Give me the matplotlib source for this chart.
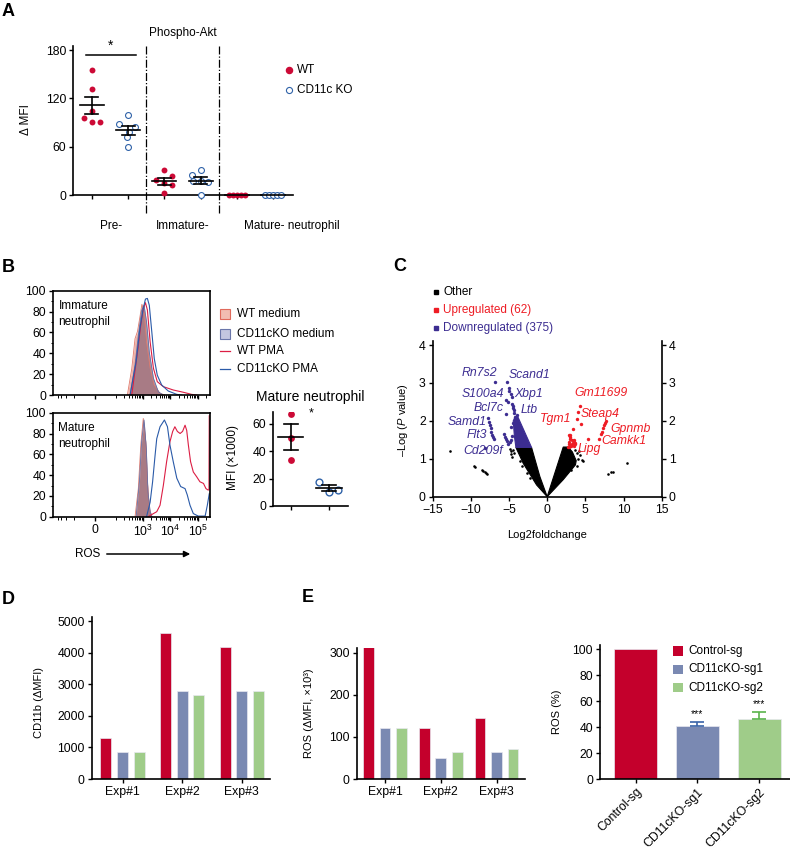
import numpy as np
import matplotlib
matplotlib.use('Agg')
import matplotlib.pyplot as plt
from matplotlib.patches import Rectangle, Polygon
from matplotlib.lines import Line2D

plt.rcParams['font.family'] = ['Liberation Sans', 'DejaVu Sans']
plt.rcParams['mathtext.fontset'] = 'custom'
plt.rcParams['mathtext.rm'] = 'Liberation Sans'
plt.rcParams['mathtext.it'] = 'Liberation Sans:italic'
plt.rcParams['axes.linewidth'] = 1.2
plt.rcParams['xtick.major.width'] = 1.0
plt.rcParams['ytick.major.width'] = 1.0
plt.rcParams['xtick.major.size'] = 3
plt.rcParams['ytick.major.size'] = 3
plt.rcParams['xtick.labelsize'] = 8.8
plt.rcParams['ytick.labelsize'] = 8.8
plt.rcParams['xtick.major.pad'] = 2
plt.rcParams['ytick.major.pad'] = 2
NARROW = ['Liberation Sans Narrow', 'Liberation Sans', 'DejaVu Sans']
FS = 8.5

# ---------------- data ----------------
# Panel A (Phospho-Akt, delta MFI)
a_categories = ['Pre-', 'Immature-', 'Mature- neutrophil']
a_pre_wt = [155, 131, 104, 96, 91, 91]
a_pre_ko = [99, 88, 84, 78, 72, 60]
a_imm_wt = [31, 23, 19, 15, 12, 2]
a_imm_ko = [31, 25, 18, 17, 16, 0]
a_mat_wt = [0, 0, 0, 0, 0]
a_mat_ko = [0, 0, 0, 0, 0]

# Panel B histograms: log10(ROS) positions and % of max
imm_wt_med_L = [2.43, 2.59, 2.71, 2.80, 2.89, 2.96, 3.04, 3.13, 3.26, 3.40, 3.62, 3.80]
imm_wt_med_c = [0, 25, 54, 61, 75, 87, 80, 51, 26, 10, 1.6, 0]
imm_ko_med_L = [2.53, 2.71, 2.83, 2.95, 3.04, 3.13, 3.23, 3.38, 3.56, 3.74]
imm_ko_med_c = [0, 29, 57, 81, 86, 70, 41, 16, 3, 0]
imm_wt_pma_L = [2.59, 2.80, 2.92, 3.01, 3.09, 3.16, 3.26, 3.38, 3.52, 3.74, 4.10, 4.47, 4.77, 4.95]
imm_wt_pma_c = [0, 41, 67, 83, 88.5, 81.5, 51, 25.6, 12.8, 8, 4.8, 2.6, 0.6, 0]
imm_ko_pma_L = [2.53, 2.75, 2.89, 3.01, 3.09, 3.16, 3.23, 3.32, 3.41, 3.52, 3.68, 3.92, 4.23, 4.41]
imm_ko_pma_c = [0, 32, 64, 83, 92, 92.6, 86, 60.7, 35, 19, 9.6, 3.8, 0.6, 0]

mat_wt_med_L = [2.71, 2.83, 2.92, 3.01, 3.10, 3.16, 3.23, 3.32]
mat_wt_med_c = [0, 27, 69, 94.5, 72, 33.6, 8, 0]
mat_ko_med_L = [2.75, 2.87, 2.95, 3.04, 3.12, 3.18, 3.26, 3.33]
mat_ko_med_c = [0, 33.6, 72, 93, 65.7, 24, 4.8, 0]
mat_ko_pma_L = [3.13, 3.26, 3.35, 3.44, 3.50, 3.62, 3.78, 3.89, 3.98, 4.10, 4.23, 4.37,
                4.53, 4.61, 4.71, 4.83, 5.01, 5.26, 5.34, 5.41]
mat_ko_pma_c = [0, 14, 33.6, 59, 75, 86.5, 93, 86.5, 69, 53, 37, 29, 27, 21, 11, 3, 0.6, 0.6, 11, 22]
mat_wt_pma_L = [3.19, 3.38, 3.50, 3.62, 3.74, 3.86, 3.98, 4.08, 4.16, 4.25, 4.35, 4.44,
                4.53, 4.59, 4.65, 4.73, 4.83, 4.95, 5.07, 5.20, 5.29, 5.37, 5.40, 5.41]
mat_wt_pma_c = [0, 3, 4.8, 11, 30, 53, 72, 82, 86.5, 82, 80, 82, 88, 83, 69, 53, 43, 38.5,
                33.6, 32, 27, 25.6, 26, 97]

# Panel B mature neutrophil MFI (x1000)
b_wt = [67, 50, 34]
b_ko = [17.5, 10, 12]

# Panel C volcano
c_other_left_x = [0, -1.39, -3.14, -4.1, -2.05, -0.96, 0]
c_other_left_y = [0, 0.31, 0.88, 1.30, 1.30, 0.53, 0]
c_other_right_x = [0, 2.1, 2.75, 3.3, 3.8, 3.7, 2.1, 0]
c_other_right_y = [0, 1.31, 1.31, 1.18, 0.95, 0.84, 0.45, 0]
c_down_area_x = [-2.05, -4.1, -4.3, -4.45, -4.2, -3.85, -2.05]
c_down_area_y = [1.30, 1.30, 1.6, 2.0, 2.11, 2.11, 1.30]
c_other_x = [-12.7, -9.6, -9.4, -8.6, -8.4, -8.2, -8.0, -7.9, -4.9, -4.8, -4.7, -4.6,
             8.0, 8.4, 8.6, 10.5, 4.1, 4.5, 4.3, 3.9, 3.6, 4.7, -4.3, -4.5,
             -3.6, -3.3, -2.6, -2.2, 3.9, 4.2, 3.1]
c_other_y = [1.21, 0.80, 0.78, 0.70, 0.68, 0.66, 0.62, 0.61, 1.27, 1.20, 1.13, 1.06,
             0.60, 0.64, 0.66, 0.90, 1.00, 0.97, 1.10, 1.15, 1.22, 0.95, 1.15, 1.22,
             0.95, 0.80, 0.62, 0.50, 0.80, 1.20, 0.70]
c_down_x = [-6.85, -5.32, -4.95, -5.0, -4.7, -4.65, -5.45, -5.2, -4.6, -4.45, -4.5, -4.3,
            -5.45, -4.3, -4.0, -4.2, -4.5, -4.7, -4.6, -4.8, -4.9,
            -7.7, -7.6, -7.5, -7.4, -7.3, -7.2, -7.1, -7.0,
            -5.6, -5.5, -5.4, -5.3, -5.2, -8.2]
c_down_y = [3.02, 3.02, 2.88, 2.80, 2.70, 2.62, 2.55, 2.50, 2.45, 2.40, 2.33, 2.30,
            2.18, 2.22, 2.15, 2.10, 1.95, 1.85, 1.60, 1.50, 1.45,
            2.07, 1.97, 1.88, 1.80, 1.72, 1.64, 1.57, 1.52,
            1.65, 1.58, 1.52, 1.46, 1.40, 1.28]
c_up_x = [4.28, 4.06, 3.85, 4.37, 3.41, 5.29, 6.8, 7.1, 7.2, 7.3, 7.4, 7.55, 7.65,
          2.8, 2.85, 2.9, 2.95, 3.0, 3.05, 2.9, 3.2, 3.4, 3.5, 3.6, 3.7, 3.3, 3.5, 3.1,
          3.55, 2.75, 3.0]
c_up_y = [2.39, 2.24, 2.04, 1.93, 1.78, 1.51, 1.53, 1.65, 1.72, 1.80, 1.88, 1.95, 2.0,
          1.32, 1.38, 1.45, 1.52, 1.58, 1.64, 1.62, 1.40, 1.42, 1.45, 1.42, 1.40, 1.50,
          1.35, 1.33, 1.50, 1.30, 1.35]
c_down_genes = ['Rn7s2', 'Scand1', 'S100a4', 'Xbp1', 'Bcl7c', 'Ltb', 'Samd1', 'Flt3', 'Cd209f']
c_down_gx = [-8.9, -2.36, -8.4, -2.5, -7.7, -2.4, -10.5, -9.2, -8.4]
c_down_gy = [3.27, 3.20, 2.71, 2.71, 2.33, 2.29, 1.96, 1.62, 1.20]
c_up_genes = ['Gm11699', 'Tgm1', 'Steap4', 'Gpnmb', 'Camkk1', 'Lipg']
c_up_gx = [7.1, 1.1, 7.0, 10.9, 10.05, 5.5]
c_up_gy = [2.73, 2.04, 2.17, 1.78, 1.47, 1.25]

# Panel D / E
exps = ['Exp#1', 'Exp#2', 'Exp#3']
d_control = [1300, 4620, 4200]
d_sg1 = [850, 2800, 2800]
d_sg2 = [870, 2650, 2800]
e_control = [313, 121, 145]
e_sg1 = [120, 50, 65]
e_sg2 = [121, 64, 70]
e_groups = ['Control-sg', 'CD11cKO-sg1', 'CD11cKO-sg2']
e_pct = [100, 41.1, 46.5]
e_pct_err = [0, 3.1, 5.4]

# ---------------- styling ----------------
W, H = 790, 859
fig = plt.figure(figsize=(W / 100, H / 100), dpi=100)

RED_DOT = '#cc0a36'
BLUE_DOT = '#2f62a8'
BAR_RED = '#c4002c'
BAR_BLUE = '#7a89b2'
BAR_GREEN = '#9fcc89'
PURPLE = '#3c2d91'
VRED = '#ee1c24'


def fx(px):
    return px / W


def fy(py):
    return 1 - py / H


def add_ax(left, top, right, bottom):
    return fig.add_axes([left / W, 1 - bottom / H, (right - left) / W, (bottom - top) / H])


def panel_letter(px, py, s):
    fig.text(fx(px), fy(py), s, fontsize=13, fontweight='bold', ha='left', va='center')


def left_bottom(ax):
    ax.spines['top'].set_visible(False)
    ax.spines['right'].set_visible(False)
    ax.tick_params(direction='out')


# ---------------- Panel A ----------------
axA = add_ax(73, 46, 293, 195)
left_bottom(axA)
axA.set_xlim(-0.52, 5.55)
axA.set_ylim(0, 185)
axA.set_yticks([0, 60, 120, 180])
axA.set_xticks(range(6))
axA.set_xticklabels([])
a_sets = [a_pre_wt, a_pre_ko, a_imm_wt, a_imm_ko, a_mat_wt, a_mat_ko]
a_jit = [[0, 0, 0, -0.23, 0, 0.23], [0, -0.24, 0.2, 0.02, -0.02, 0],
         [0, 0.2, -0.24, 0, 0.2, 0], [0, -0.25, -0.2, 0, 0.2, 0],
         [-0.22, -0.11, 0, 0.11, 0.22], [-0.22, -0.11, 0, 0.11, 0.22]]
for gi, (vals, jit) in enumerate(zip(a_sets, a_jit)):
    v = np.array(vals, dtype=float)
    xs = gi + np.array(jit)
    if gi % 2 == 0:
        axA.scatter(xs, v, s=18, color=RED_DOT, lw=0, zorder=3, clip_on=False)
    else:
        axA.scatter(xs, v, s=18, facecolor='white', edgecolor=BLUE_DOT, lw=0.8,
                    zorder=3, clip_on=False)
    m = v.mean()
    se = v.std(ddof=1) / np.sqrt(len(v))
    axA.plot([gi - 0.33, gi + 0.33], [m, m], color='k', lw=1.2, zorder=4, clip_on=False)
    if se > 0:
        axA.plot([gi, gi], [m - se, m + se], color='k', lw=1.2, zorder=4)
        for yy in (m - se, m + se):
            axA.plot([gi - 0.18, gi + 0.18], [yy, yy], color='k', lw=1.2, zorder=4)
for xv in (1.5, 3.5):
    axA.plot([xv, xv], [-22, 185], color='k', lw=0.9, ls='-.', clip_on=False)
axA.plot([-0.17, 1.22], [173.8, 173.8], color='k', lw=1.1, clip_on=False)
axA.text(0.52, 176, '*', ha='center', va='bottom', fontsize=10)
axA.text(0.52, -38, a_categories[0], ha='center', va='center', fontsize=FS)
axA.text(2.5, -38, a_categories[1], ha='center', va='center', fontsize=FS)
axA.text(4.2, -38, a_categories[2], ha='left', va='center', fontsize=FS)
fig.text(fx(183), fy(33), 'Phospho-Akt', ha='center', va='center', fontsize=FS)
fig.text(fx(26), fy(120), 'Δ MFI', rotation=90, ha='center', va='center', fontsize=FS)
fig.add_artist(Line2D([fx(289)], [fy(70)], marker='o', ms=4.4, color=RED_DOT, lw=0))
fig.add_artist(Line2D([fx(289)], [fy(90)], marker='o', ms=4.4, mfc='white',
                      mec=BLUE_DOT, mew=0.8, lw=0))
fig.text(fx(297), fy(70), 'WT', va='center', fontsize=FS)
fig.text(fx(297), fy(90), 'CD11c KO', va='center', fontsize=FS)
panel_letter(2, 12, 'A')

# ---------------- Panel B histograms ----------------
def fwd(v):
    return np.arcsinh(np.asarray(v, dtype=float) / 36.0) / np.log(10)


def inv(u):
    return 36.0 * np.sinh(np.asarray(u, dtype=float) * np.log(10))


WT_MED_FACE = '#eeb2a8'
KO_MED_FACE = '#644664'
WT_LINE = '#dc1e44'
KO_LINE = '#2a5aa8'

minor_x = [-400, -300, -200, -100, 100, 200, 300, 400, 500, 600, 700, 800, 900] + \
          [k * 1000 for k in range(2, 10)] + [k * 10000 for k in range(2, 10)] + [200000]


def hist_ax(top, bottom, sets, label, show_labels):
    ax = add_ax(53, top, 210, bottom)
    ax.set_xscale('function', functions=(fwd, inv))
    ax.set_xlim(inv((53 - 95) / 27.5), inv((210 - 95) / 27.5))
    ax.set_ylim(0, 100)
    (wmL, wmc), (kmL, kmc), (wpL, wpc), (kpL, kpc) = sets
    ax.fill_between(10 ** np.array(wmL), wmc, color=WT_MED_FACE, lw=0)
    ax.plot(10 ** np.array(wmL), wmc, color='#e07a6c', lw=0.6)
    ax.fill_between(10 ** np.array(kmL), kmc, color=KO_MED_FACE, alpha=0.5, lw=0)
    ax.plot(10 ** np.array(kmL), kmc, color='#6070a8', lw=0.6)
    ax.plot(10 ** np.array(wpL), wpc, color=WT_LINE, lw=0.8)
    ax.plot(10 ** np.array(kpL), kpc, color=KO_LINE, lw=0.8)
    ax.set_yticks(range(0, 101, 20))
    ax.set_yticks(range(0, 101, 10), minor=True)
    ax.set_xticks([0, 1e3, 1e4, 1e5])
    ax.set_xticks(minor_x, minor=True)
    ax.tick_params(which='minor', length=1.8, width=0.7)
    ax.tick_params(which='major', direction='out')
    ax.tick_params(which='minor', direction='out')
    if show_labels:
        ax.set_xticklabels(['0', '$10^3$', '$10^4$', '$10^5$'])
    else:
        ax.set_xticklabels([])
    ax.text(0.035, 0.91, label, transform=ax.transAxes, ha='left', va='top',
            fontsize=FS, linespacing=1.45)
    return ax


hist_ax(290.7, 395, [(imm_wt_med_L, imm_wt_med_c), (imm_ko_med_L, imm_ko_med_c),
                     (imm_wt_pma_L, imm_wt_pma_c), (imm_ko_pma_L, imm_ko_pma_c)],
        'Immature\nneutrophil', False)
hist_ax(412.7, 516.7, [(mat_wt_med_L, mat_wt_med_c), (mat_ko_med_L, mat_ko_med_c),
                       (mat_wt_pma_L, mat_wt_pma_c), (mat_ko_pma_L, mat_ko_pma_c)],
        'Mature\nneutrophil', True)

fig.text(fx(88), fy(554), 'ROS', ha='center', va='center', fontsize=FS, family=NARROW)
fig.add_artist(matplotlib.patches.FancyArrowPatch(
    (fx(104), fy(554)), (fx(193), fy(554)), transform=fig.transFigure,
    arrowstyle='-|>', mutation_scale=9, lw=1.1, color='k'))

# legend B
fig.add_artist(Rectangle((fx(220), fy(319)), 10 / W, 10 / H, transform=fig.transFigure,
                         facecolor='#f2bdb2', edgecolor='#e06a5c', lw=0.8))
fig.add_artist(Rectangle((fx(220), fy(339)), 10 / W, 10 / H, transform=fig.transFigure,
                         facecolor='#c3c6e0', edgecolor='#6a76aa', lw=0.8))
fig.add_artist(Line2D([fx(220), fx(230)], [fy(351), fy(351)], color=WT_LINE, lw=0.9))
fig.add_artist(Line2D([fx(220), fx(230)], [fy(369), fy(369)], color=KO_LINE, lw=0.9))
for py, s in zip([314, 334, 351, 369], ['WT medium', 'CD11cKO medium', 'WT PMA', 'CD11cKO PMA']):
    fig.text(fx(237), fy(py), s, va='center', fontsize=FS)
panel_letter(2, 268, 'B')

# mature dot plot
axBm = add_ax(273, 411.7, 348, 506)
left_bottom(axBm)
axBm.set_xlim(-0.47, 1.5)
axBm.set_ylim(0, 69)
axBm.set_yticks([0, 20, 40, 60])
axBm.set_xticks([0, 1])
axBm.set_xticklabels([])
for gi, (vals, jit) in enumerate([(b_wt, [0, 0, 0]), (b_ko, [-0.25, 0, 0.25])]):
    v = np.array(vals, dtype=float)
    xs = gi + np.array(jit)
    if gi == 0:
        axBm.scatter(xs, v, s=24, color=RED_DOT, lw=0, zorder=3)
    else:
        axBm.scatter(xs, v, s=24, facecolor='white', edgecolor=BLUE_DOT, lw=1.0, zorder=3)
    m = v.mean()
    se = v.std(ddof=1) / np.sqrt(len(v))
    axBm.plot([gi - 0.33, gi + 0.33], [m, m], color='k', lw=1.2, zorder=4)
    axBm.plot([gi, gi], [m - se, m + se], color='k', lw=1.2, zorder=4)
    for yy in (m - se, m + se):
        axBm.plot([gi - 0.18, gi + 0.18], [yy, yy], color='k', lw=1.2, zorder=4)
axBm.text(0.54, 63, '*', ha='center', va='bottom', fontsize=9)
fig.text(fx(310), fy(397), 'Mature neutrophil', ha='center', va='center', fontsize=10)
fig.text(fx(233), fy(457), 'MFI (×1000)', rotation=90, ha='center', va='center',
         fontsize=FS, family=NARROW)

# ---------------- Panel C volcano ----------------
axC = add_ax(432.7, 341.3, 661.7, 496.7)
axC.spines['top'].set_visible(False)
axC.set_xlim(-15, 15)
axC.set_ylim(0, 4.1)
axC.set_xticks([-15, -10, -5, 0, 5, 10, 15])
axC.set_xticklabels(['−15', '−10', '−5', '0', '5', '10', '15'])
axC.set_yticks([0, 1, 2, 3, 4])
axC.yaxis.set_ticks_position('both')
axC.tick_params(direction='out', labelright=True)
axC.add_patch(Polygon(np.column_stack([c_other_left_x, c_other_left_y]), closed=True,
                      facecolor='k', edgecolor='k', lw=0.8))
axC.add_patch(Polygon(np.column_stack([c_other_right_x, c_other_right_y]), closed=True,
                      facecolor='k', edgecolor='k', lw=0.8))
axC.add_patch(Polygon(np.column_stack([c_down_area_x, c_down_area_y]), closed=True,
                      facecolor=PURPLE, edgecolor=PURPLE, lw=0.8))
axC.scatter(c_other_x, c_other_y, s=3.5, color='k', lw=0)
axC.scatter(c_down_x, c_down_y, s=6, color=PURPLE, lw=0)
axC.scatter(c_up_x, c_up_y, s=6, color=VRED, lw=0)
for g, x, y in zip(c_down_genes, c_down_gx, c_down_gy):
    axC.text(x, y, g, color=PURPLE, style='italic', fontsize=8.8, ha='center', va='center')
for g, x, y in zip(c_up_genes, c_up_gx, c_up_gy):
    axC.text(x, y, g, color=VRED, style='italic', fontsize=8.8, ha='center', va='center')
fig.text(fx(403), fy(420), '–Log ($\\it{P}$ value)', rotation=90, ha='center', va='center',
         fontsize=8, family=NARROW)
fig.text(fx(547), fy(535), 'Log2foldchange', ha='center', va='center', fontsize=8,
         family=NARROW)
for py, s, col in zip([292, 310, 328], ['Other', 'Upregulated (62)', 'Downregulated (375)'],
                      ['k', VRED, PURPLE]):
    fig.add_artist(Line2D([fx(436)], [fy(py)], marker='s', ms=3.3, color=col, lw=0))
    fig.text(fx(443), fy(py), s, va='center', fontsize=FS, color=col)
panel_letter(393, 267, 'C')

# ---------------- Panel D ----------------
def grouped_bars(ax, series, step, width):
    cols = [BAR_RED, BAR_BLUE, BAR_GREEN]
    base = np.arange(len(exps))
    for i, (vals, c) in enumerate(zip(series, cols)):
        ax.bar(base + (i - 1) * step, vals, width=width, color=c, edgecolor='#e8e8f0', lw=0.5)
    ax.set_xticks(base)
    ax.set_xticklabels(exps)


axD = add_ax(91.7, 616.7, 270, 779)
left_bottom(axD)
axD.set_xlim(-0.52, 2.475)
axD.set_ylim(0, 5150)
axD.set_yticks(range(0, 5001, 1000))
grouped_bars(axD, [d_control, d_sg1, d_sg2], 0.28, 0.185)
fig.text(fx(39), fy(702), 'CD11b (ΔMFI)', rotation=90, ha='center', va='center',
         fontsize=8, family=NARROW)
panel_letter(2, 599, 'D')

# ---------------- Panel E ----------------
axE1 = add_ax(356.7, 648.3, 525, 779)
left_bottom(axE1)
axE1.set_xlim(-0.507, 2.51)
axE1.set_ylim(0, 310)
axE1.set_yticks([0, 100, 200, 300])
grouped_bars(axE1, [e_control, e_sg1, e_sg2], 0.296, 0.19)
fig.text(fx(309), fy(713), 'ROS (ΔMFI, ×10³)', rotation=90, ha='center', va='center',
         fontsize=8, family=NARROW)
panel_letter(302, 598, 'E')

axE2 = add_ax(600, 645, 790, 779)
left_bottom(axE2)
axE2.set_xlim(-0.58, 2.5)
axE2.set_ylim(0, 103.3)
axE2.set_yticks(range(0, 101, 20))
xe = np.arange(3)
e_cols = [BAR_RED, BAR_BLUE, BAR_GREEN]
e_errc = ['k', '#3a64a8', '#5ab44c']
axE2.bar(xe, e_pct, width=0.70, color=e_cols, edgecolor='#e8e8f0', lw=0.5)
for i in (1, 2):
    axE2.errorbar([xe[i]], [e_pct[i]], yerr=[[0], [e_pct_err[i]]], fmt='none',
                  ecolor=e_errc[i], elinewidth=1.2, capsize=5, capthick=1.2)
    axE2.text(xe[i], e_pct[i] + e_pct_err[i] + 2, '***', ha='center', va='bottom', fontsize=7.5)
axE2.set_xticks(xe)
axE2.set_xticklabels(e_groups, rotation=45, ha='right', va='top', rotation_mode='anchor',
                     fontsize=8.8)
fig.text(fx(557), fy(712), 'ROS (%)', rotation=90, ha='center', va='center',
         fontsize=8, family=NARROW)
for py, s, c in zip([651, 669.3, 687.7], e_groups, e_cols):
    fig.add_artist(Rectangle((fx(673), fy(py + 4.7)), 10 / W, 9.4 / H,
                             transform=fig.transFigure, facecolor=c, edgecolor='none'))
    fig.text(fx(688), fy(py), s, va='center', fontsize=FS)

fig.savefig('out.png', dpi=100)
